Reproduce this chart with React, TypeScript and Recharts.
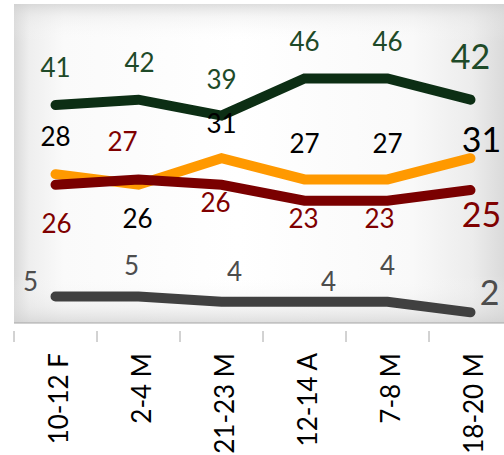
import React from 'react';
import {
  LineChart,
  Line,
  XAxis,
  YAxis,
  CartesianGrid,
  LabelList,
} from 'recharts';

const periods = ['10-12 F', '2-4 M', '21-23 M', '12-14 A', '7-8 M', '18-20 M'];
const greenSeries = [41, 42, 39, 46, 46, 42];
const orangeSeries = [28, 26, 31, 27, 27, 31];
const redSeries = [26, 27, 26, 23, 23, 25];
const graySeries = [5, 5, 4, 4, 4, 2];

// label offsets (label centre relative to the point), hand placed like the original
const greenOffsets = [[0, -37], [1, -37], [0, -36], [0, -37], [0, -37], [0, -43]];
const orangeOffsets = [[0, -37], [-1, 34], [0, -35], [0, -36], [0, -36], [11, -18]];
const redOffsets = [[1, 39], [-16, -38], [-6, 18], [-1, 18], [-8, 18], [11, 25]];
const grayOffsets = [[-25, -15], [-7, -31], [13, -30], [24, -20], [0, -36], [19, -20]];

const data = periods.map((p, i) => ({
  period: p,
  green: greenSeries[i],
  orange: orangeSeries[i],
  red: redSeries[i],
  gray: graySeries[i],
}));

const FONT = 'Lato, "Open Sans", sans-serif';
const HALF_BAND = 41.5;

function makeLabel(color: string, offsets: number[][]) {
  return (props: any) => {
    const { x, y, index, value } = props;
    const [dx, dy] = offsets[index] || [0, 0];
    const big = index === periods.length - 1;
    const fs = big ? 34 : 26;
    return (
      <text
        x={x + dx}
        y={y + dy}
        dy={fs * 0.36}
        textAnchor="middle"
        fill={color}
        fontSize={fs}
        fontFamily={FONT}
      >
        {value}
      </text>
    );
  };
}

function PeriodTick(props: any) {
  const { x, y, payload } = props;
  return (
    <g>
      <line x1={x - HALF_BAND} y1={y} x2={x - HALF_BAND} y2={y + 11} stroke="#a6a6a6" />
      <g transform={`translate(${x},${y})`}>
        <text
          transform="rotate(-90)"
          x={-22}
          y={12}
          textAnchor="end"
          fill="#000"
          fontSize={26}
          fontFamily={FONT}
        >
          {payload.value}
        </text>
      </g>
    </g>
  );
}

export default function App() {
  return (
    <div
      style={{
        position: 'absolute',
        left: 0,
        top: 0,
        width: 504,
        height: 455,
        overflow: 'hidden',
        background: '#fff',
      }}
    >
      <LineChart
        width={520}
        height={455}
        data={data}
        margin={{ top: 4, right: 8, bottom: 0, left: 14 }}
      >
        <defs>
          <linearGradient id="bgH" x1="0" y1="0" x2="1" y2="0">
            <stop offset="0%" stopColor="#d9d9d9" />
            <stop offset="3%" stopColor="#eeeeee" />
            <stop offset="10%" stopColor="#fafafa" />
            <stop offset="45%" stopColor="#ffffff" />
            <stop offset="80%" stopColor="#f9f9f9" />
            <stop offset="92%" stopColor="#ececec" />
            <stop offset="100%" stopColor="#d6d6d6" />
          </linearGradient>
          <linearGradient id="bgV" x1="0" y1="0" x2="0" y2="1">
            <stop offset="0%" stopColor="#cfcfcf" stopOpacity={0.7} />
            <stop offset="4%" stopColor="#e0e0e0" stopOpacity={0.3} />
            <stop offset="12%" stopColor="#ffffff" stopOpacity={0} />
            <stop offset="85%" stopColor="#ffffff" stopOpacity={0} />
            <stop offset="95%" stopColor="#e0e0e0" stopOpacity={0.35} />
            <stop offset="100%" stopColor="#cfcfcf" stopOpacity={0.7} />
          </linearGradient>
          <pattern
            id="plotBg"
            patternUnits="objectBoundingBox"
            patternContentUnits="objectBoundingBox"
            width="1"
            height="1"
          >
            <rect x="0" y="0" width="1" height="1" fill="url(#bgH)" />
            <rect x="0" y="0" width="1" height="1" fill="url(#bgV)" />
          </pattern>
        </defs>
        <CartesianGrid horizontal={false} vertical={false} fill="url(#plotBg)" />
        <XAxis
          dataKey="period"
          height={132}
          interval={0}
          padding={{ left: HALF_BAND, right: HALF_BAND }}
          axisLine={{ stroke: '#a6a6a6' }}
          tickLine={false}
          tick={<PeriodTick />}
        />
        <YAxis hide domain={[0, 60]} />
        <Line
          dataKey="green"
          stroke="#0c2e14"
          strokeWidth={10}
          strokeLinecap="round"
          dot={false}
          isAnimationActive={false}
        >
          <LabelList dataKey="green" content={makeLabel('#1e4a28', greenOffsets)} />
        </Line>
        <Line
          dataKey="orange"
          stroke="#ff9900"
          strokeWidth={10}
          strokeLinecap="round"
          dot={false}
          isAnimationActive={false}
        >
          <LabelList dataKey="orange" content={makeLabel('#000000', orangeOffsets)} />
        </Line>
        <Line
          dataKey="red"
          stroke="#7a0000"
          strokeWidth={10}
          strokeLinecap="round"
          dot={false}
          isAnimationActive={false}
        >
          <LabelList dataKey="red" content={makeLabel('#7f0000', redOffsets)} />
        </Line>
        <Line
          dataKey="gray"
          stroke="#404040"
          strokeWidth={10}
          strokeLinecap="round"
          dot={false}
          isAnimationActive={false}
        >
          <LabelList dataKey="gray" content={makeLabel('#4d4d4d', grayOffsets)} />
        </Line>
      </LineChart>
    </div>
  );
}
